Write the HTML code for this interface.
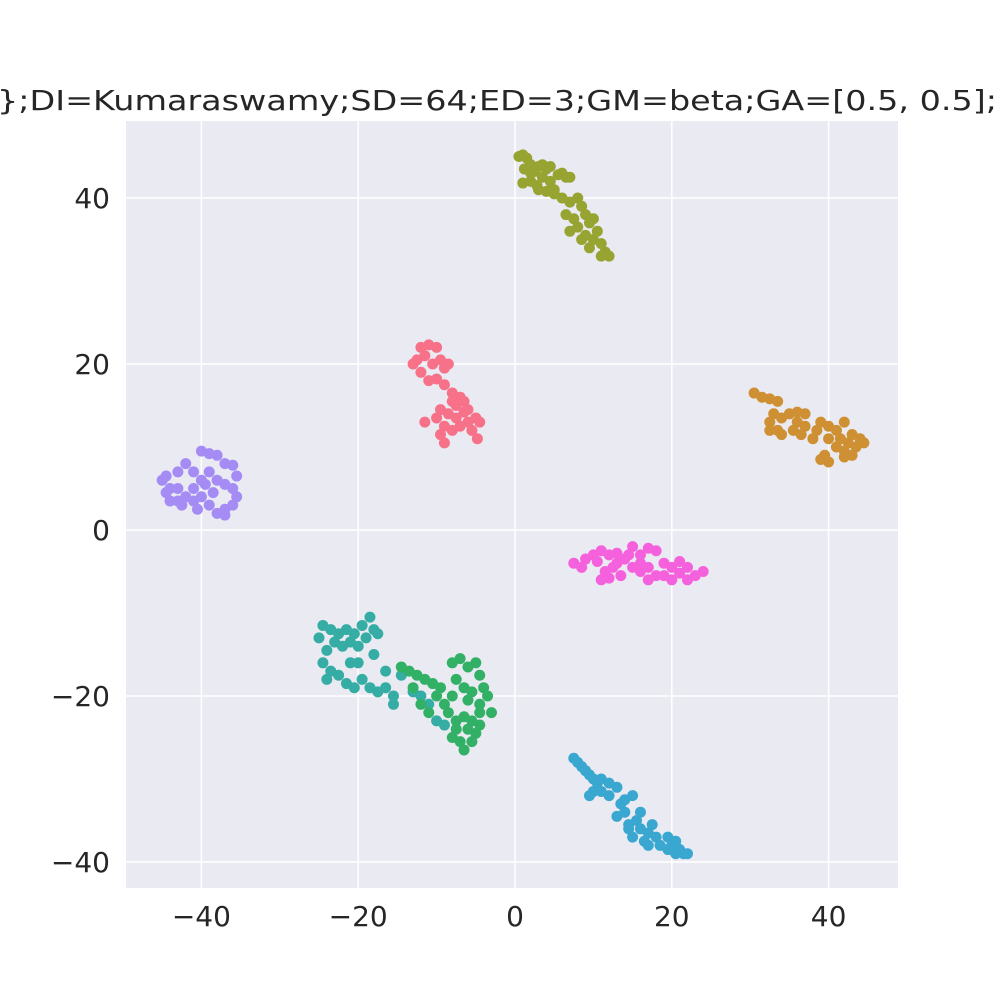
<!DOCTYPE html>
<html><head><meta charset="utf-8"><style>
html,body{margin:0;padding:0;background:#fff;}
svg{display:block;font-family:"DejaVu Sans","Liberation Sans",sans-serif;}
</style></head><body>
<svg id="chart" width="1000" height="1000" viewBox="0 0 1000 1000">
<rect x="0" y="0" width="1000" height="1000" fill="#ffffff"/>
<text x="497" y="110" font-size="28" fill="#262626" text-anchor="middle" textLength="1000" lengthAdjust="spacingAndGlyphs">};DI=Kumaraswamy;SD=64;ED=3;GM=beta;GA=[0.5, 0.5];</text>
<rect x="126" y="121" width="772" height="767" fill="#eaeaf2"/>
<g id="grid"></g>
<g id="ticks"></g>
<g id="points"></g>
</svg>
<script>
const xTicks = [-40, -20, 0, 20, 40];
const yTicks = [-40, -20, 0, 20, 40];
const clusterColors = ['#97a431','#f77189','#ce9032','#a48cf4','#f561dd','#36ada4','#32b166','#39a7d0'];
const clusterNames = ['olive','red','orange','purple','magenta','teal','green','cyan'];
const olivePts = "0.5,45 1,45.2 1.5,44.8 2,44 1.2,43.5 2.5,43.2 3,43.8 3.5,44 4,43.5 2,42 1,41.8 2.8,41.5 3.5,42.5 4.5,42 5,41 4,40.8 5.5,42.8 6,43 6.5,42.5 7,42.5 6,40 7,39.5 8,40 8.5,39 6.5,38 7.5,37.5 8,36.5 7,36 9,38 9.5,37 9,35.5 10,35 10.5,36 9.5,34 11,34.5 11.5,33.5 11,33 12,33 10,37.5 8.5,35 5,40.5 3,41 2,43 4.5,43.8";
const redPts = "-12,22 -11,22.3 -10,22 -12.5,20.5 -11.5,21 -10.5,20 -9.5,20.5 -9,19.5 -8.5,20 -13,20 -12,19 -11,18 -10,18.2 -9,17.5 -8,16.5 -7,16 -7.5,15 -6.5,15.5 -6,14.5 -9.5,14.5 -8.5,14 -7.5,13.5 -6,13 -5,13.5 -4.5,13 -5.5,12 -7,12.5 -8,12 -9,12.5 -9.5,11.5 -9,10.5 -11.5,13 -4.8,11 -6.5,14.2 -10,13.5 -8,15.5";
const orangePts = "30.5,16.5 31.5,16 32.5,15.8 33.5,15.5 33,14 32.5,13 34,13.5 35,14 36,14.2 37,14 32.5,12 33.5,12 34,11.5 35.5,12 36.5,11.5 37,12.5 38.5,12 39,13 40,12.5 41,12 42,13 43,11.5 41.5,11 42.5,10.5 43.5,10 44,11 40,11 41,10 42,9.5 43,9 39,8.5 40,8.2 39.5,9 42,8.8 44.5,10.5 38,11 36,13";
const purplePts = "-45,6 -44,5 -44.5,4.5 -43,7 -42,8 -41,7 -40,9.5 -39,9.2 -38,9 -37,8 -36,7.8 -35.5,6.5 -36,5 -37,5.5 -38,6 -39,7 -40,6 -41,5 -42,4 -43,3.5 -44,3.5 -42.5,3 -41,3.5 -40,4 -39,3 -38,2 -37,2.5 -36,3 -35.5,4 -38.5,4.5 -40.5,2.5 -37,1.8 -39.5,5.5 -44.5,6.5 -43,5";
const magentaPts = "7.5,-4 8.5,-4.5 9,-3.5 10,-3 11,-2.5 12,-3 13,-2.8 14,-3.5 15,-2 16,-3 17,-2.2 18,-2.5 11.5,-5 12.5,-4.5 13.5,-5.5 11,-6 12,-5.8 15,-4.5 16,-5 17,-4.5 18,-5.5 19,-4 20,-4.5 21,-3.8 22,-4.5 23,-5.5 24,-5 22,-6 21,-5.2 20,-6 19,-5.5 17,-6 16,-4 13,-4 10.5,-3.8 14.5,-3";
const tealPts = "-25,-13 -24.5,-11.5 -23.5,-12 -22.5,-12.5 -21.5,-12 -20.5,-12.5 -19.5,-11.5 -18.5,-10.5 -18,-12 -17.5,-12.5 -19,-13 -20,-14 -21,-13.5 -22,-14 -23,-13.5 -24,-14.5 -24.5,-16 -23.5,-17 -24,-18 -22.5,-17.5 -21.5,-18.5 -20.5,-19 -19.5,-18 -18.5,-19 -17.5,-19.5 -16.5,-19 -15.5,-20 -15.5,-21 -16.5,-17 -14.5,-17.5 -13,-19.5 -12,-20 -11,-21 -10,-23 -9,-23.5 -20,-16 -18,-15 -21,-16";
const greenPts = "-14.5,-16.5 -13.5,-17 -12.5,-17.5 -11.5,-18 -10.5,-18.5 -9.5,-19 -8,-16 -7,-15.5 -6,-16.5 -5,-16 -4.5,-17.5 -7.5,-18 -6.5,-19 -5.5,-19.5 -4,-19 -3.5,-20 -4.5,-21 -6,-20.5 -8,-20 -9,-21 -13,-19 -12,-21 -11,-22 -10,-20 -8.5,-22 -7.5,-23 -6.5,-22.5 -5.5,-23 -4.5,-22 -3,-22 -8,-25 -7,-25.5 -6.5,-26.5 -5.5,-25.5 -5,-24.5 -6,-24 -7.5,-24 -4.5,-23.5";
const cyanPts = "7.5,-27.5 8,-28 8.5,-28.5 9,-29 9.5,-29.5 10,-30 10.5,-30.5 11,-30 12,-30.5 11,-31.5 10,-31.5 9.5,-32 12,-32 13,-31 13.5,-33 14,-32.5 15,-32 14,-34 13,-34.5 14.5,-35.5 15.5,-35 16,-34 16,-36 17,-36.5 17.5,-35.5 18,-37 16.5,-37.5 18.5,-38 19.5,-37 20,-38 20.5,-37.5 21,-38.5 22,-39 21.5,-39 20.5,-39 19.5,-38.5 17,-38 15,-37 14.5,-36";
const clusterData = [olivePts, redPts, orangePts, purplePts, magentaPts, tealPts, greenPts, cyanPts];

const NS = "http://www.w3.org/2000/svg";
function sx(v){ return 515 + v * 7.84; }
function sy(v){ return 530 - v * 8.3; }

const grid = document.getElementById('grid');
const ticks = document.getElementById('ticks');
xTicks.forEach(t => {
  const l = document.createElementNS(NS,'line');
  l.setAttribute('x1', sx(t)); l.setAttribute('x2', sx(t));
  l.setAttribute('y1', 121); l.setAttribute('y2', 888);
  l.setAttribute('stroke','#ffffff'); l.setAttribute('stroke-width','1.5');
  
  
  grid.appendChild(l);
  const tx = document.createElementNS(NS,'text');
  tx.setAttribute('x', sx(t)); tx.setAttribute('y', 926);
  tx.setAttribute('text-anchor','middle'); tx.setAttribute('font-size','28'); tx.setAttribute('fill','#262626');
  tx.textContent = t < 0 ? '\u2212' + Math.abs(t) : String(t);
  
  
  ticks.appendChild(tx);
});
yTicks.forEach(t => {
  const l = document.createElementNS(NS,'line');
  l.setAttribute('x1', 126); l.setAttribute('x2', 898);
  l.setAttribute('y1', sy(t)); l.setAttribute('y2', sy(t));
  l.setAttribute('stroke','#ffffff'); l.setAttribute('stroke-width','1.5');
  
  
  grid.appendChild(l);
  const tx = document.createElementNS(NS,'text');
  tx.setAttribute('x', 110); tx.setAttribute('y', sy(t) + 10);
  tx.setAttribute('text-anchor','end'); tx.setAttribute('font-size','28'); tx.setAttribute('fill','#262626');
  tx.textContent = t < 0 ? '\u2212' + Math.abs(t) : String(t);
  
  
  ticks.appendChild(tx);
});

const pts = document.getElementById('points');
clusterData.forEach((s, i) => {
  const g = document.createElementNS(NS,'g');
  
  
  s.trim().split(/\s+/).forEach(p => {
    const [x, y] = p.split(',').map(Number);
    const c = document.createElementNS(NS,'circle');
    c.setAttribute('cx', sx(x)); c.setAttribute('cy', sy(y)); c.setAttribute('r', 5.5);
    c.setAttribute('fill', clusterColors[i]);
    
    
    g.appendChild(c);
  });
  pts.appendChild(g);
});
</script>
</body></html>
